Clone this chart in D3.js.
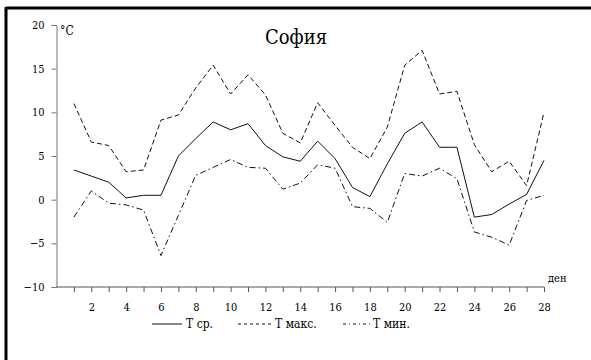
<!DOCTYPE html>
<html>
<head>
<meta charset="utf-8">
<script src="https://cdn.jsdelivr.net/npm/d3@7"></script>
<style>
  body { margin: 0; background: #fff; }
  svg text { fill: #000; font-stretch: condensed; }
</style>
</head>
<body>
<div class="board"></div>
<script>
// temperatures for Sofia by day
var days = d3.range(1, 29);
var tAvg = [3.4, 2.7, 2.0, 0.2, 0.5, 0.5, 5.0, 7.0, 8.9, 8.0, 8.7, 6.2, 4.9, 4.4,
            6.7, 4.7, 1.4, 0.35, 4.1, 7.6, 8.9, 6.0, 6.0, -2.0, -1.7, -0.5, 0.6, 4.5];
var tMax = [11.0, 6.6, 6.2, 3.2, 3.4, 9.1, 9.7, 12.8, 15.4, 12.1, 14.3, 12.0, 7.6, 6.5,
            11.1, 8.5, 6.0, 4.7, 8.3, 15.4, 17.1, 12.1, 12.4, 6.3, 3.2, 4.4, 1.6, 10.0];
var tMin = [-2.0, 1.0, -0.4, -0.6, -1.2, -6.4, -1.8, 2.8, 3.7, 4.6, 3.7, 3.6, 1.2, 1.9,
            4.0, 3.6, -0.8, -1.0, -2.6, 3.0, 2.7, 3.6, 2.4, -3.7, -4.3, -5.2, -0.1, 0.5];
var yTicks = [-10, -5, 0, 5, 10, 15, 20];

var width = 591;
var height = 360;
var serif = '"DejaVu Serif Condensed", "DejaVu Serif", serif';

var svg = d3.select('.board').append('svg')
    .attr('width', width)
    .attr('height', height);

// frame (only top and left edges visible)
svg.append('line').attr('x1', 6).attr('x2', width).attr('y1', 8).attr('y2', 8)
    .attr('stroke', '#000').attr('stroke-width', 3);
svg.append('line').attr('x1', 6).attr('x2', 6).attr('y1', 7).attr('y2', height)
    .attr('stroke', '#000').attr('stroke-width', 3);

var x = d3.scaleLinear().domain([0, 28]).range([56.5, 544]);
var y = d3.scaleLinear().domain([-10, 20]).range([287, 25]);

// y axis
var yAxis = svg.append('g')
    .attr('transform', 'translate(' + x(0) + ',0)')
    .call(d3.axisLeft(y).tickValues(yTicks).tickSize(5).tickPadding(7));
yAxis.attr('font-family', serif).attr('font-size', 11);
yAxis.select('.domain').attr('stroke', '#777');
yAxis.selectAll('.tick line').attr('stroke', '#777');

// x axis
var xAxis = svg.append('g')
    .attr('transform', 'translate(0,' + y(-10) + ')')
    .call(d3.axisBottom(x).tickValues(days).tickSize(5).tickPadding(11)
      .tickFormat(function (d) { return d % 2 === 0 ? d : ''; }));
xAxis.attr('font-family', serif).attr('font-size', 11);
xAxis.select('.domain').attr('stroke', '#555').attr('d', 'M' + x(0) + ',0H' + x(28));
xAxis.selectAll('.tick line').attr('stroke', '#555');

// titles
svg.append('text').attr('x', 296).attr('y', 44).attr('text-anchor', 'middle')
    .attr('font-family', serif).attr('font-size', 20).text('София');
svg.append('text').attr('x', 60).attr('y', 35)
    .attr('font-family', serif).attr('font-size', 12).text('°C');
svg.append('text').attr('x', 548).attr('y', 282)
    .attr('font-family', serif).attr('font-size', 11).text('ден');

var series = [
  { name: 'T ср.', values: tAvg, dash: null },
  { name: 'T макс.', values: tMax, dash: '5,3' },
  { name: 'T мин.', values: tMin, dash: '6,3,1.5,3' }
];

var line = d3.line()
    .x(function (d, i) { return x(days[i]); })
    .y(function (d) { return y(d); });

svg.selectAll('.series')
    .data(series)
    .enter().append('path')
    .attr('class', 'series')
    .attr('d', function (d) { return line(d.values); })
    .attr('fill', 'none')
    .attr('stroke', '#111')
    .attr('stroke-width', 1)
    .attr('stroke-dasharray', function (d) { return d.dash; });

// legend
var legendX = [152, 238, 343];
var legend = svg.selectAll('.legend')
    .data(series)
    .enter().append('g')
    .attr('class', 'legend')
    .attr('transform', function (d, i) { return 'translate(' + legendX[i] + ',324)'; });
legend.append('line')
    .attr('x1', 0).attr('x2', function (d, i) { return i === 0 ? 30 : (i === 1 ? 35 : 28); })
    .attr('y1', 0).attr('y2', 0)
    .attr('stroke', '#111')
    .attr('stroke-dasharray', function (d, i) { return i === 1 ? '3,3' : (i === 2 ? '3,3,1,3' : null); });
legend.append('text')
    .attr('x', function (d, i) { return i === 0 ? 34 : (i === 1 ? 37 : 30); })
    .attr('y', 4)
    .attr('font-family', serif)
    .attr('font-size', 12)
    .text(function (d) { return d.name; });
</script>
</body>
</html>
